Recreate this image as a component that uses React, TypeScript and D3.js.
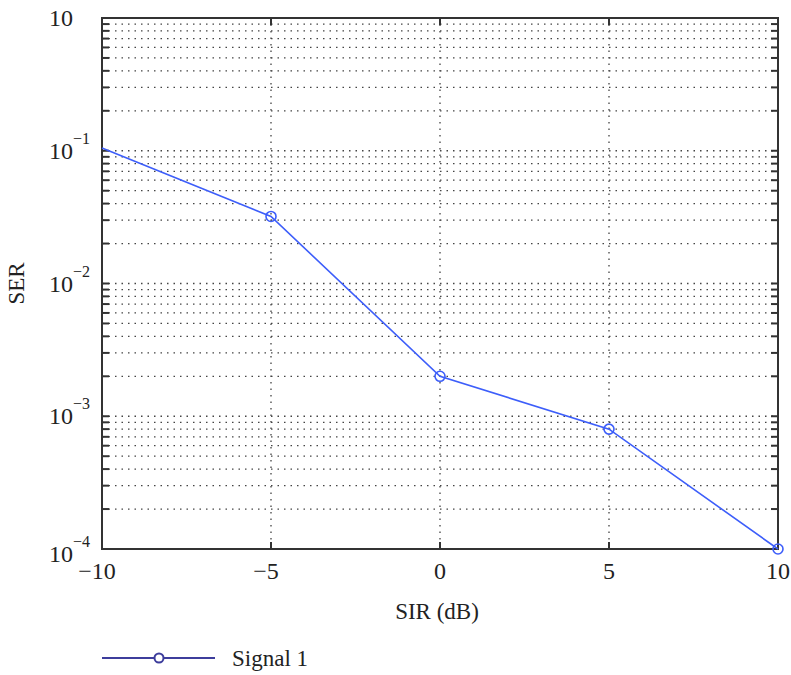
import React from "react";
import * as d3 from "d3";

// SIR (dB) vs SER, single curve
const sir = [-10, -5, 0, 5, 10];
const ser = [0.105, 0.032, 0.002, 0.0008, 0.0001];
const showMarker = [false, true, true, true, true];
const xTicks = [-10, -5, 0, 5, 10];
const yDecades = [-4, -3, -2, -1, 0];
const seriesName = "Signal 1";

const W = 791;
const H = 675;
const margin = { left: 102, right: 13, top: 18, bottom: 126 };

const lineColor = "#3d5efa";
const legendColor = "#3d3d9c";
const font = "'Liberation Serif', 'Times New Roman', serif";

const fmtTick = (v: number) => (v < 0 ? "\u2212" + Math.abs(v) : String(v));

const App = () => {
  const x = d3
    .scaleLinear()
    .domain([-10, 10])
    .range([margin.left, W - margin.right]);
  const y = d3
    .scaleLog()
    .domain([1e-4, 1])
    .range([H - margin.bottom, margin.top]);

  const x0 = x.range()[0];
  const x1 = x.range()[1];
  const y0 = y.range()[0];
  const y1 = y.range()[1];

  // minor + major log gridlines
  const gridY: number[] = [];
  for (let e = -4; e < 0; e++) {
    for (let m = 1; m <= 9; m++) {
      const v = m * Math.pow(10, e);
      if (v > 1e-4) gridY.push(v);
    }
  }

  const line = d3
    .line<number>()
    .x((_, i) => x(sir[i]))
    .y((d) => y(d));

  const dots = "1.5,5";
  const tickLen = 7;

  return (
    <svg width={W} height={H} style={{ display: "block", position: "absolute", left: 0, top: 0 }}>
      <rect width={W} height={H} fill="#fff" />
      {/* horizontal gridlines */}
      {gridY.map((v, i) => (
        <line
          key={"gy" + i}
          x1={x0}
          x2={x1}
          y1={y(v)}
          y2={y(v)}
          stroke="#444"
          strokeWidth={1.3}
          strokeDasharray={dots}
        />
      ))}
      {/* vertical gridlines */}
      {xTicks.slice(1, -1).map((t) => (
        <line
          key={"gx" + t}
          x1={x(t)}
          x2={x(t)}
          y1={y1}
          y2={y0}
          stroke="#444"
          strokeWidth={1.3}
          strokeDasharray={dots}
        />
      ))}
      {/* y ticks, left and right, inward */}
      {gridY.map((v, i) => (
        <g key={"ty" + i} stroke="#333" strokeWidth={2}>
          <line x1={x0} x2={x0 + tickLen} y1={y(v)} y2={y(v)} />
          <line x1={x1} x2={x1 - tickLen} y1={y(v)} y2={y(v)} />
        </g>
      ))}
      {/* x ticks, bottom and top */}
      {xTicks.slice(1, -1).map((t) => (
        <g key={"tx" + t} stroke="#333" strokeWidth={2}>
          <line x1={x(t)} x2={x(t)} y1={y0} y2={y0 - tickLen} />
          <line x1={x(t)} x2={x(t)} y1={y1} y2={y1 + tickLen} />
        </g>
      ))}
      {/* frame */}
      <rect
        x={x0}
        y={y1}
        width={x1 - x0}
        height={y0 - y1}
        fill="none"
        stroke="#333"
        strokeWidth={2}
      />
      {/* data line */}
      <path d={line(ser) || ""} fill="none" stroke={lineColor} strokeWidth={1.6} />
      {ser.map((v, i) =>
        showMarker[i] ? (
          <circle
            key={"m" + i}
            cx={x(sir[i])}
            cy={y(v)}
            r={5}
            fill="none"
            stroke={lineColor}
            strokeWidth={1.6}
          />
        ) : null
      )}
      {/* x tick labels */}
      {xTicks.map((t) => (
        <text
          key={"xl" + t}
          x={x(t) - (t < 0 ? 5 : 0)}
          y={y0 + 30}
          textAnchor="middle"
          fontFamily={font}
          fontSize={24}
          fill="#222"
        >
          {fmtTick(t)}
        </text>
      ))}
      {/* y tick labels */}
      {yDecades.map((e) => {
        const yy = y(Math.pow(10, e)) + (e === -4 ? 5 : 0);
        return e === 0 ? (
          <text
            key={"yl" + e}
            x={73}
            y={yy + 8}
            textAnchor="end"
            fontFamily={font}
            fontSize={24}
            fill="#222"
          >
            10
          </text>
        ) : (
          <g key={"yl" + e} fontFamily={font} fill="#222">
            <text x={73} y={yy + 8} textAnchor="end" fontSize={24}>
              10
            </text>
            <text x={73} y={yy - 7} textAnchor="start" fontSize={16}>
              {"\u2212" + Math.abs(e)}
            </text>
          </g>
        );
      })}
      {/* axis titles */}
      <text
        x={437}
        y={619}
        textAnchor="middle"
        fontFamily={font}
        fontSize={23}
        fill="#222"
      >
        SIR (dB)
      </text>
      <text
        transform={`translate(24, ${(y0 + y1) / 2}) rotate(-90)`}
        textAnchor="middle"
        fontFamily={font}
        fontSize={23}
        fill="#222"
      >
        SER
      </text>
      {/* legend */}
      <g>
        <line x1={102} x2={215} y1={658} y2={658} stroke={legendColor} strokeWidth={2} />
        <circle cx={159} cy={658} r={4.5} fill="#fff" stroke={legendColor} strokeWidth={2} />
        <text x={232} y={666} fontFamily={font} fontSize={23} fill="#222">
          {seriesName}
        </text>
      </g>
    </svg>
  );
};

export default App;
